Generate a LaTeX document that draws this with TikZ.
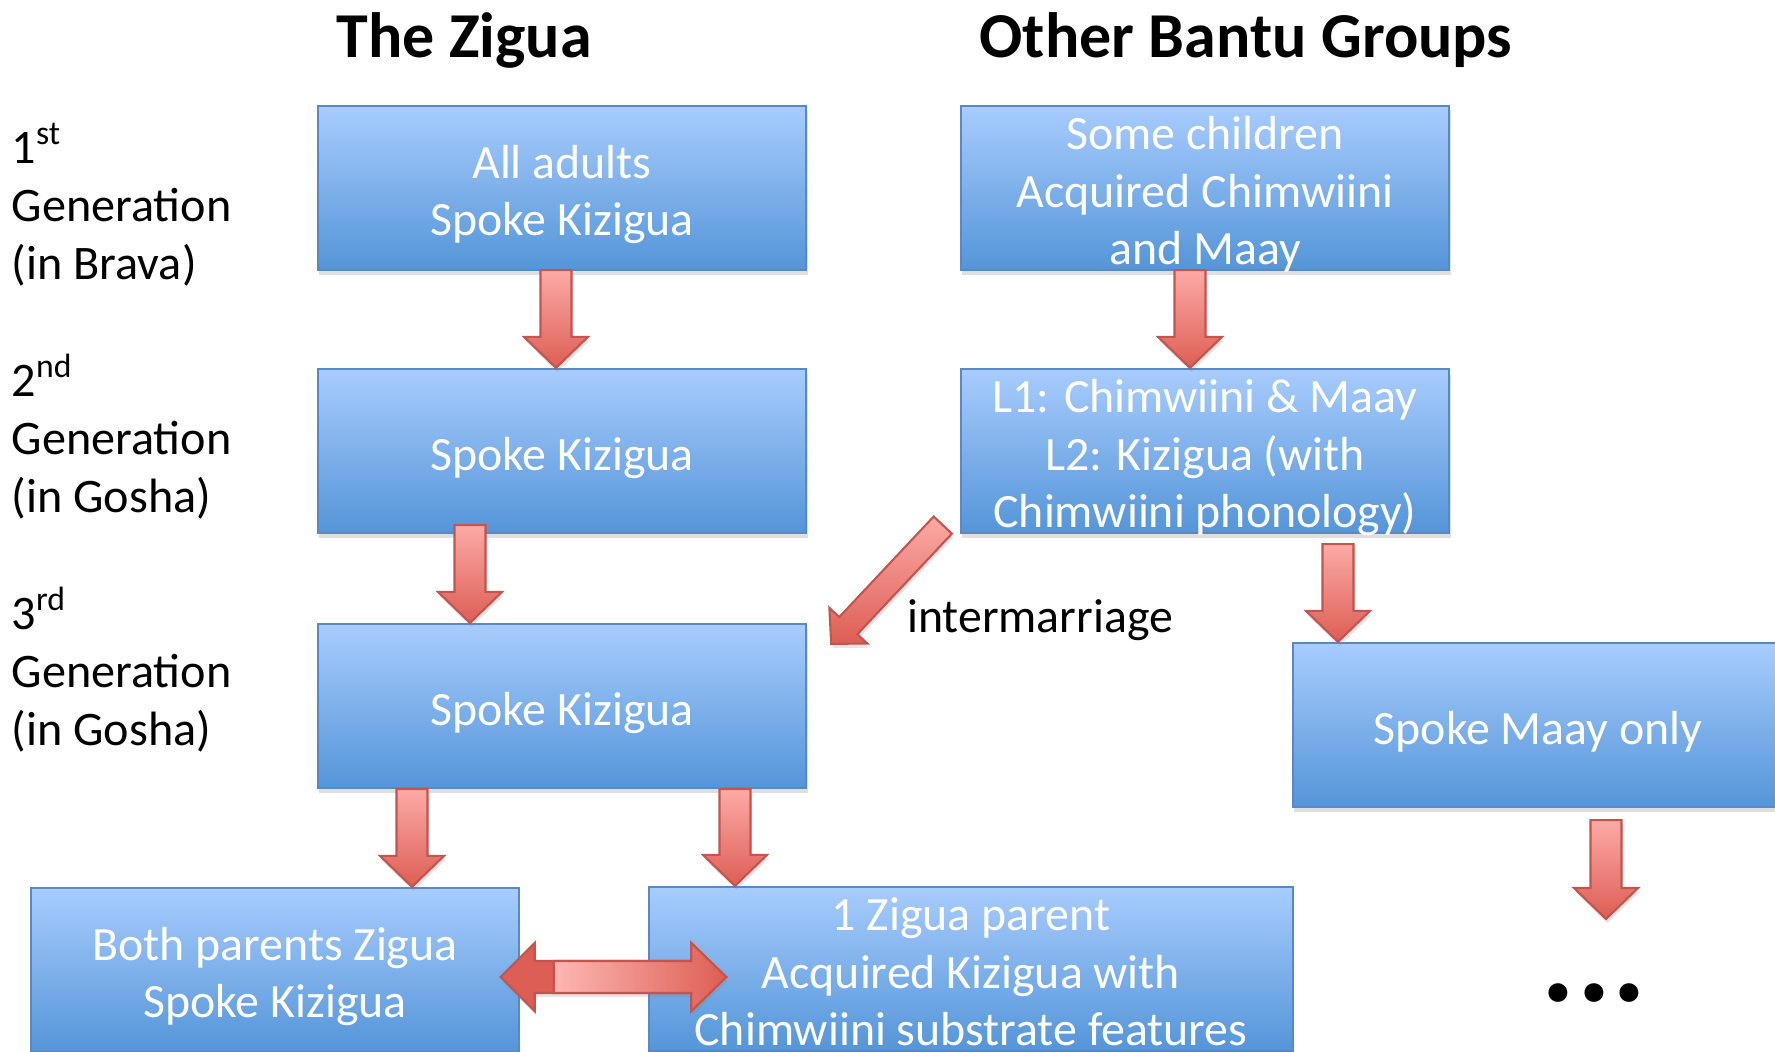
\documentclass[tikz,border=0pt]{standalone}
\usepackage{fontspec}
\setmainfont{Carlito}
\usetikzlibrary{calc,positioning,shadows}
\definecolor{boxtop}{RGB}{168,204,253}
\definecolor{boxbot}{RGB}{84,149,216}
\definecolor{boxline}{RGB}{88,137,196}
\definecolor{arrtop}{RGB}{252,170,166}
\definecolor{arrbot}{RGB}{221,94,84}
\definecolor{arrline}{RGB}{196,84,78}

\newcommand{\boxfont}{\fontsize{13.6}{16.3}\selectfont}
\newcommand{\genfont}{\fontsize{13.7}{16.6}\selectfont}
\newcommand{\headfont}{\fontsize{18.2}{21}\selectfont\bfseries}
% box text, a little below the middle, never growing the box
\newcommand{\boxtext}[1]{\raisebox{-5.8pt}[0pt][0pt]{\begin{tabular}{@{}c@{}}#1\end{tabular}}}

% block arrow: tail, tip, half shaft, half head, head length
\newcommand{\blockarrow}[5]{%
  \path[redarrow] let \p1=(#1), \p2=(#2), \n1={atan2(\y2-\y1,\x2-\x1)},
      \p3=($(\p2)!#5!(\p1)$) in
    ($(\p1)+(\n1+90:#3)$) -- ($(\p3)+(\n1+90:#3)$) -- ($(\p3)+(\n1+90:#4)$)
    -- (\p2) -- ($(\p3)+(\n1-90:#4)$) -- ($(\p3)+(\n1-90:#3)$)
    -- ($(\p1)+(\n1-90:#3)$) -- cycle;}

\begin{document}
\begin{tikzpicture}[x=0.01cm,y=-0.01cm,
  genbox/.style={draw=boxline,line width=0.6pt,top color=boxtop,bottom color=boxbot,
    text=white,font=\boxfont,minimum width=4.88cm,minimum height=1.64cm,
    inner sep=0pt,drop shadow={opacity=0.25,shadow xshift=0.4pt,shadow yshift=-1.4pt}},
  gentext/.style={anchor=west,align=left,font=\genfont,inner sep=0pt},
  title/.style={font=\headfont},
  redarrow/.style={draw=arrline,line width=0.6pt,top color=arrtop,bottom color=arrbot,
    drop shadow={opacity=0.2,shadow xshift=0.4pt,shadow yshift=-1.2pt}}]

\useasboundingbox (0,0) rectangle (1775,1052);

% headings
\node[title] (zigua) at (464,40) {The Zigua};
\node[title] (bantu) at (1246,40) {Other Bantu Groups};

% generations
\node[gentext] (gen1) at (11,205) {1\textsuperscript{st}\\Generation\\(in Brava)};
\node[gentext] (gen2) at (11,437) {2\textsuperscript{nd}\\Generation\\(in Gosha)};
\node[gentext] (gen3) at (11,670) {3\textsuperscript{rd}\\Generation\\(in Gosha)};

% boxes
\node[genbox] (allad) at (562,188) {\boxtext{All adults\\Spoke Kizigua}};
\node[genbox] (zig2) at (562,451) {\boxtext{Spoke Kizigua}};
\node[genbox] (zig3) at (562,706) {\boxtext{Spoke Kizigua}};
\node[genbox,minimum width=4.87cm] (both) at (275,970) {\boxtext{Both parents Zigua\\Spoke Kizigua}};
\node[genbox,minimum width=6.43cm] (onepar) at (971,969)
  {\boxtext{1 Zigua parent\\Acquired Kizigua with\\Chimwiini substrate features}};
\node[genbox] (somech) at (1205,188) {\boxtext{Some children\\Acquired Chimwiini\\and Maay}};
\node[genbox] (lone) at (1205,451) {\boxtext{L1: Chimwiini \& Maay\\L2: Kizigua (with\\Chimwiini phonology)}};
\node[genbox,minimum width=4.9cm] (maay) at (1538,725) {\boxtext{Spoke Maay only}};
\node[font=\fontsize{36}{40}\selectfont\bfseries,inner sep=0pt] (dots) at (1594,993) {.\kern0.6pt.\kern0.6pt.};
\node[font=\boxfont] (inter) at (1040,620) {intermarriage};

% arrows
\blockarrow{$(allad.south)+(-6,-1)$}{$(zig2.north)+(-6,0)$}{0.155cm}{0.32cm}{0.31cm}
\blockarrow{$(zig2.south)+(-92,-9)$}{$(zig3.north)+(-92,0)$}{0.155cm}{0.32cm}{0.31cm}
\blockarrow{$(somech.south)+(-15,-1)$}{$(lone.north)+(-15,0)$}{0.155cm}{0.32cm}{0.31cm}
\blockarrow{$(lone.south)+(133,10)$}{$(maay.north)+(-200,0)$}{0.155cm}{0.32cm}{0.31cm}
\blockarrow{$(zig3.south)+(-150,0)$}{$(both.north)+(137,0)$}{0.155cm}{0.32cm}{0.31cm}
\blockarrow{$(zig3.south)+(173,0)$}{$(onepar.north)+(-236,0)$}{0.155cm}{0.32cm}{0.31cm}
\blockarrow{$(maay.south)+(68,12)$}{$(dots.center)+(12,-74)$}{0.155cm}{0.32cm}{0.31cm}
\blockarrow{$(lone.south west)+(-17,-9)$}{$(zig3.north east)+(24,21)$}{0.125cm}{0.26cm}{0.25cm}

% both ways
\path[redarrow,top color=arrbot,bottom color=arrbot]
  let \p1=($(both.east)+(-19,7)$), \p2=($(onepar.west)+(78,8)$) in
  (\p1) -- (\x1+0.34cm,\y1+0.34cm) -- (\x1+0.34cm,\y1+0.16cm) -- (\x2-0.35cm,\y1+0.16cm)
  -- (\x2-0.35cm,\y1+0.34cm) -- (\x2,\y1) -- (\x2-0.35cm,\y1-0.34cm) -- (\x2-0.35cm,\y1-0.16cm)
  -- (\x1+0.34cm,\y1-0.16cm) -- (\x1+0.34cm,\y1-0.34cm) -- cycle;
\path[draw=arrline,line width=0.6pt,left color=arrtop!85!white,right color=arrbot]
  let \p1=($(both.east)+(-19,7)$), \p2=($(onepar.west)+(78,8)$) in
  (\x1+0.53cm,\y1+0.16cm) -- (\x2-0.35cm,\y1+0.16cm)
  -- (\x2-0.35cm,\y1+0.34cm) -- (\x2,\y1) -- (\x2-0.35cm,\y1-0.34cm) -- (\x2-0.35cm,\y1-0.16cm)
  -- (\x1+0.53cm,\y1-0.16cm) -- cycle;
\end{tikzpicture}
\end{document}
